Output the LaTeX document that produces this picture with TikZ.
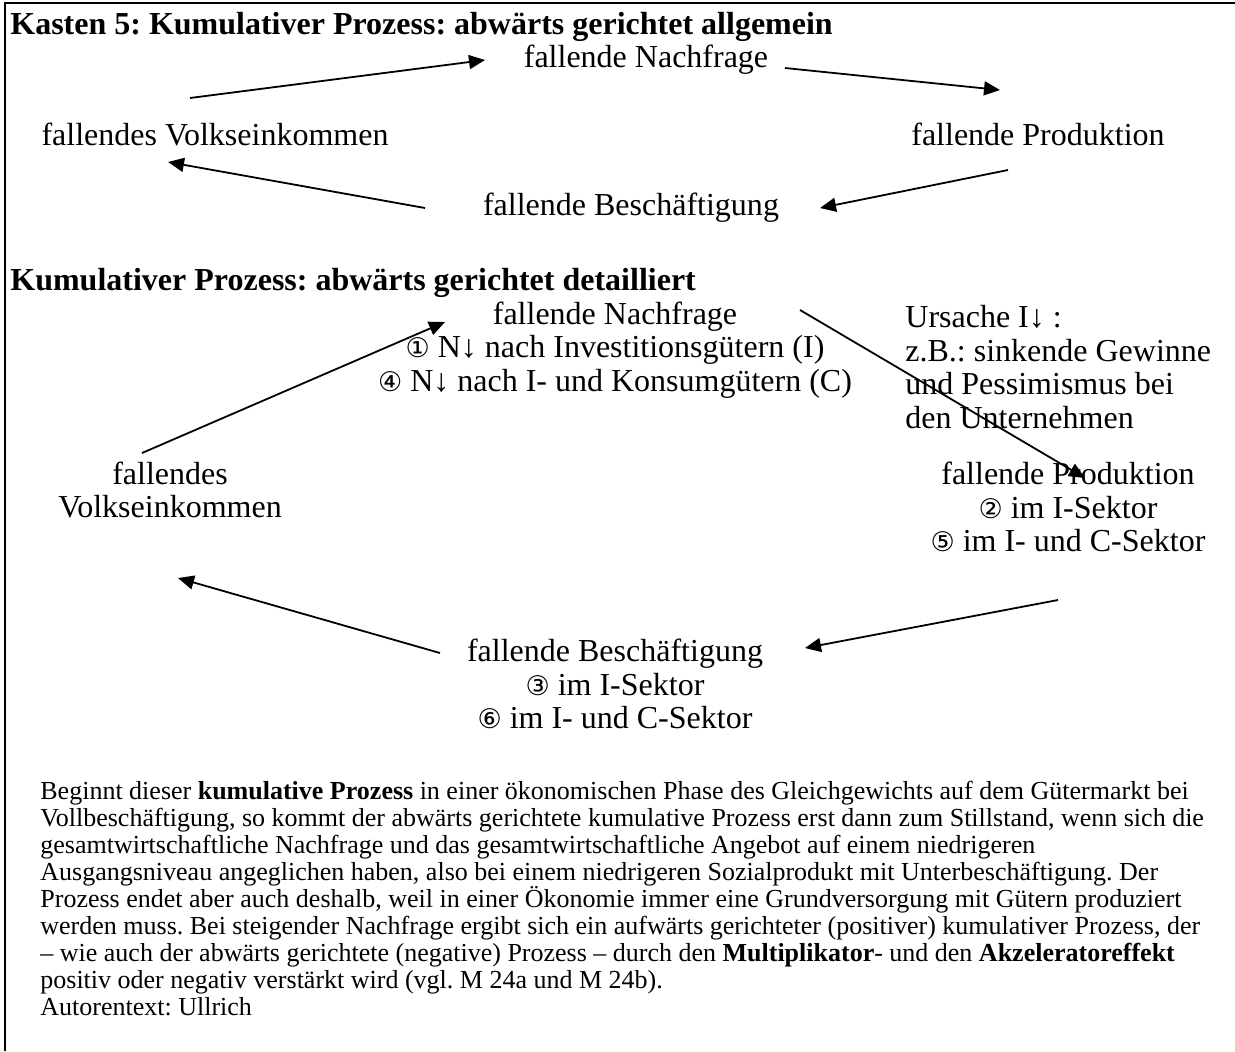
\documentclass[tikz,border=0pt]{standalone}
\usepackage{fontspec}
\setmainfont{Liberation Serif}
\newfontfamily\kreis{DejaVu Sans}
\usetikzlibrary{arrows.meta,
                positioning}
\frenchspacing

\newcommand{\nr}[1]{{\kreis\fontsize{13.5}{13.5}\selectfont #1}}

\begin{document}
\begin{tikzpicture}[x=0.5pt,y=-0.5pt,
  pfeil/.style={-{Triangle[length=8pt,width=7pt]},line width=0.9pt},
  gross/.style={font=\fontsize{16}{16.75}\selectfont,align=center,inner sep=0pt},
  titel/.style={font=\fontsize{16}{16}\selectfont\bfseries,anchor=west,inner sep=0pt}]
\useasboundingbox (0,0) rectangle (1235,1051);
\draw[line width=1pt] (5,1051) -- (5,3) -- (1235,3);

% allgemein
\node[titel] (t1) at (10,27) {Kasten 5: Kumulativer Prozess: abwärts gerichtet allgemein};
\node[gross] (n1) at (646,60) {fallende Nachfrage};
\node[gross] (v1) at (215,134) {fallendes Volkseinkommen};
\node[gross] (p1) at (1038,134) {fallende Produktion};
\node[gross] (b1) at (631,208) {fallende Beschäftigung};

\coordinate (a1) at (190,98);   \coordinate (e1) at (485,60);
\coordinate (a2) at (785,68);   \coordinate (e2) at (1000,90);
\coordinate (a3) at (1008,170); \coordinate (e3) at (820,208);
\coordinate (a4) at (425,208);  \coordinate (e4) at (168,162);

% detailliert
\node[titel] (t2) at (10,283) {Kumulativer Prozess: abwärts gerichtet detailliert};
\node[gross] (n2) at (615,350) {fallende Nachfrage\\
  \nr{①} N↓ nach Investitionsgütern (I)\\
  \nr{④} N↓ nach I- und Konsumgütern (C)};
\node[gross,anchor=west,align=left] (u2) at (905,367) {Ursache I↓ :\\
  z.B.: sinkende Gewinne\\ und Pessimismus bei\\ den Unternehmen};
\node[gross] (v2) at (170,490) {fallendes\\ Volkseinkommen};
\node[gross] (p2) at (1068,507) {fallende Produktion\\
  \nr{②} im I-Sektor\\ \nr{⑤} im I- und C-Sektor};
\node[gross] (b2) at (615,684) {fallende Beschäftigung\\
  \nr{③} im I-Sektor\\ \nr{⑥} im I- und C-Sektor};

\coordinate (a5) at (142,453);  \coordinate (e5) at (445,322);
\coordinate (a6) at (800,310);  \coordinate (e6) at (1085,478);
\coordinate (a7) at (1058,600); \coordinate (e7) at (805,648);
\coordinate (a8) at (440,653);  \coordinate (e8) at (178,578);

\foreach \a/\e in {a1/e1,a2/e2,a3/e3,a4/e4,a5/e5,a6/e6,a7/e7,a8/e8}
  \draw[pfeil] (\a) -- (\e);

% Text
\node[anchor=north west,align=left,inner sep=0pt,
      font=\fontsize{13}{13.5}\selectfont] (txt) at (40,781)
{Beginnt dieser \textbf{kumulative Prozess} in einer ökonomischen Phase des Gleichgewichts auf dem Gütermarkt bei\\
Vollbeschäftigung, so kommt der abwärts gerichtete kumulative Prozess erst dann zum Stillstand, wenn sich die\\
gesamtwirtschaftliche Nachfrage und das gesamtwirtschaftliche Angebot auf einem niedrigeren\\
Ausgangsniveau angeglichen haben, also bei einem niedrigeren Sozialprodukt mit Unterbeschäftigung. Der\\
Prozess endet aber auch deshalb, weil in einer Ökonomie immer eine Grundversorgung mit Gütern produziert\\
werden muss. Bei steigender Nachfrage ergibt sich ein aufwärts gerichteter (positiver) kumulativer Prozess, der\\
– wie auch der abwärts gerichtete (negative) Prozess – durch den \textbf{Multiplikator}- und den \textbf{Akzeleratoreffekt}\\
positiv oder negativ verstärkt wird (vgl. M 24a und M 24b).\\
Autorentext: Ullrich};
\end{tikzpicture}
\end{document}
